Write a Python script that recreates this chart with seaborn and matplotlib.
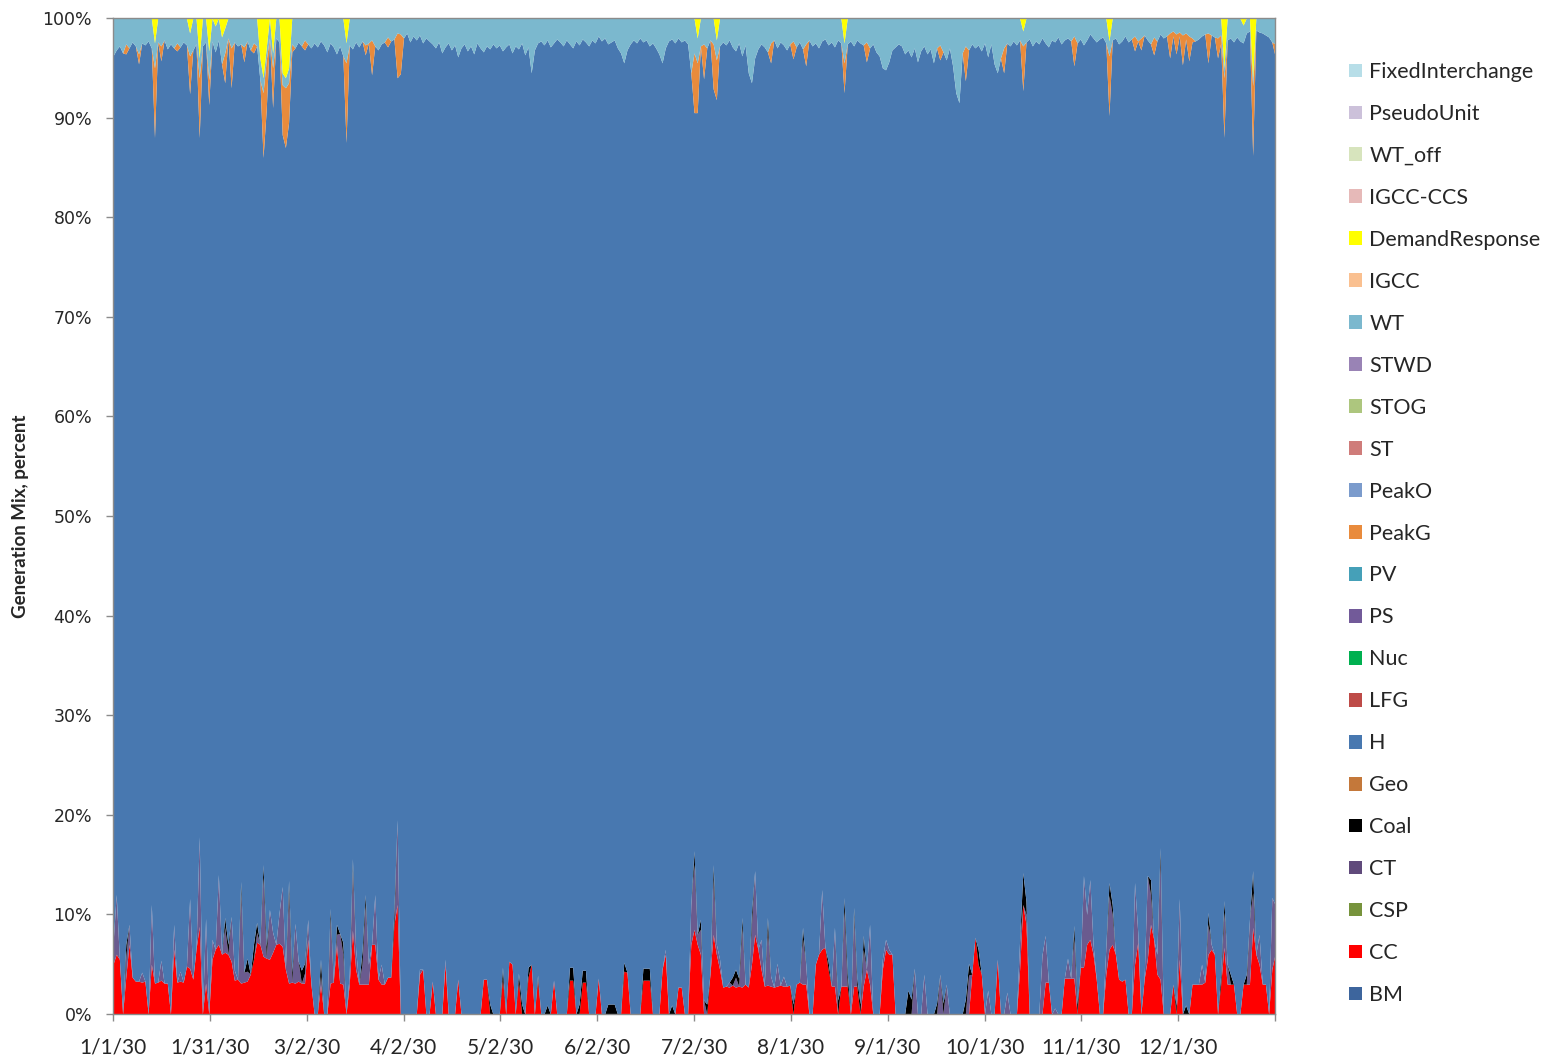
import numpy as np
import matplotlib
matplotlib.use("Agg")
import matplotlib.pyplot as plt
from matplotlib.patches import Patch
import seaborn as sns

sns.set_style("ticks")
plt.rcParams["font.family"] = ["Lato", "DejaVu Sans"]

# stacking order (bottom -> top), as in the source workbook
series_names = ["BM", "CC", "CSP", "CT", "Coal", "Geo", "H", "LFG", "Nuc", "PS", "PV",
                "PeakG", "PeakO", "ST", "STOG", "STWD", "WT", "IGCC", "DemandResponse",
                "IGCC-CCS", "WT_off", "PseudoUnit", "FixedInterchange"]
series_colors = ["#3D659D", "#FF0000", "#77933C", "#604A7B", "#000000", "#C4783A", "#4878B0",
                 "#BE4B48", "#00B050", "#725A99", "#45A0B8", "#E98B3C", "#7B9BCC", "#CF7C7A",
                 "#ADC67E", "#9983B5", "#7BB8CE", "#FAC090", "#FFFF00", "#E6B9B8", "#D7E4BD",
                 "#CCC1DA", "#B7DEE8"]

tick_labels = ["1/1/30", "1/31/30", "3/2/30", "4/2/30", "5/2/30", "6/2/30", "7/2/30",
               "8/1/30", "9/1/30", "10/1/30", "11/1/30", "12/1/30", ""]

# daily shares of generation, percent
cc = [5, 6, 5.5, 0, 3.7, 7, 3.7, 3.3, 3.3, 3.2,
      3.3, 0, 5, 3.1, 3.2, 3.4, 3.1, 3.1, 0, 6.5,
      3.2, 3.3, 3.2, 4.8, 4.6, 3.5, 6.5, 8.8, 0, 3.1,
      0, 5.5, 6.5, 7, 6, 6.2, 6, 5.3, 3.4, 3.5,
      3.1, 3.2, 3.3, 4, 5.5, 7.2, 7, 5.8, 5.6, 5.5,
      6.2, 7, 7.1, 6.8, 4.5, 3.1, 3.2, 3.1, 3.3, 3.1,
      3.1, 7.5, 3, 0, 0, 3, 0, 0, 3.1, 3.2,
      7, 3.1, 3, 0, 3, 8.4, 4.5, 3, 3, 3,
      3, 7, 7, 3.5, 3, 3, 3.7, 3.7, 9, 11,
      0, 0, 0, 0, 0, 0, 4, 4.5, 0, 0,
      3.3, 0, 0, 0, 5, 0, 0, 0, 3.5, 0,
      0, 0, 0, 0, 0, 0, 3.5, 3.5, 0, 0,
      0, 0, 3.6, 0, 5.3, 5, 0, 3.3, 0, 0,
      3.7, 5, 0, 3.4, 0, 0, 0, 0, 3.4, 0,
      0, 0, 0, 3.4, 3.4, 0, 0, 3.2, 3.2, 0,
      0, 0, 3.6, 0, 0, 0, 0, 0, 0, 0,
      4.3, 4.2, 0, 0, 0, 0, 3.4, 3.4, 3.4, 0,
      0, 0, 4.5, 6, 0, 0, 0, 2.7, 2.7, 0,
      0, 7, 8.5, 7, 6, 0, 0, 4, 8, 6,
      4.5, 2.7, 2.8, 2.7, 2.9, 2.7, 2.8, 2.7, 3, 2.7,
      5, 8, 6.5, 4.5, 2.8, 2.9, 2.8, 2.7, 2.8, 2.9,
      2.8, 2.8, 2.9, 0, 3, 3.2, 3, 3, 0, 0,
      5, 6, 6.5, 6.7, 4.5, 2.8, 2.8, 0, 2.8, 2.8,
      2.8, 0, 2.8, 2.8, 0, 2.8, 4.5, 3, 0, 0,
      0, 4.5, 6.5, 6, 6, 0, 0, 0, 0, 0,
      0, 0, 0, 0, 0, 0, 0, 0, 0, 0,
      0, 0, 0, 0, 0, 0, 0, 0, 0, 4,
      7.7, 5, 4, 0, 0, 0, 0, 5.5, 0, 0,
      0, 0, 0, 0, 4.5, 11, 9, 0, 0, 0,
      0, 0, 3.2, 3.2, 0, 0, 0, 0, 3.6, 3.6,
      3.6, 3.6, 0, 4.7, 4.7, 7, 7.5, 6, 3.5, 0,
      0, 4, 6.5, 7, 6, 3.5, 3.3, 3.5, 0, 0,
      5, 7.2, 0, 3.5, 5.5, 9, 7.5, 4, 3.5, 0,
      0, 0, 3, 0, 5.5, 0, 0, 0, 3, 3,
      3, 3, 3.2, 6, 6.5, 6, 0, 3, 6.7, 3,
      3, 3, 0, 0, 3, 3, 3, 8.7, 6, 5,
      3, 3, 0, 4.5, 6]

ct = [2, 6, 0, 0, 2, 2, 0, 0, 0, 1,
      0, 0, 6, 0, 0, 2, 0, 0, 0, 2.5,
      0, 1, 0, 0, 7, 0, 0, 9, 0, 6.5,
      0, 2, 0, 7, 0, 2.5, 0, 4.5, 1, 0,
      9, 1, 1, 0, 0, 1, 0, 8, 0, 5,
      2, 0, 3, 6, 0, 9, 0, 6, 2, 0,
      1, 2, 0, 0, 0, 1, 0, 0, 6.5, 0,
      1, 5, 3, 0, 1, 6, 2, 0, 2, 8,
      2, 0, 5, 0, 2, 0, 0, 0, 0, 8.5,
      0, 0, 0, 0, 0, 0, 0.5, 0, 0, 0,
      0, 0, 0, 0, 0.5, 0, 0, 0, 0, 0,
      0, 0, 0, 0, 0, 0, 0, 0, 0, 0,
      0, 0, 0, 0, 0, 0, 0, 0, 0, 0,
      0, 0, 0, 0, 0, 0, 0, 0, 0, 0,
      0, 0, 0, 0, 0, 0, 0, 0, 0, 0,
      0, 0, 0, 0, 0, 0, 0, 0, 0, 0,
      0, 0, 0, 0, 0, 0, 0, 0, 0, 0,
      0, 0, 0, 0.5, 0, 0, 0, 0, 0, 0,
      0, 4, 6.5, 1, 2.5, 1.4, 0, 0, 5.5, 1,
      1, 0, 0, 0.5, 0, 1, 0, 6, 0, 0,
      4, 6.4, 0, 3, 0, 5.5, 1, 0, 2.3, 0,
      1, 0, 0, 0, 0, 0, 4.5, 2, 0, 0,
      0, 0, 6, 0, 0, 0, 5.9, 0, 0, 7.6,
      0, 0, 7, 0, 0, 3.7, 0, 6, 0, 0,
      0, 1, 1, 0.5, 0, 0, 0, 0, 0, 0,
      0, 4.6, 0, 0, 4, 0, 0, 0, 0, 4,
      0, 3, 0, 0, 0, 0, 0, 0, 3.9, 0,
      0, 0, 0, 0, 2.4, 0, 0, 0, 0, 0,
      2.2, 0, 0, 0, 2.9, 0, 1, 0, 0, 0,
      0, 5.9, 4.7, 0, 0, 0.6, 0, 0, 0, 2,
      0, 4, 0, 0, 9.2, 3, 6, 1, 0, 0,
      0, 2.7, 5.4, 3, 0, 0, 0, 0, 0, 0,
      8.2, 1, 0, 0, 8.4, 3, 0, 2, 12, 0,
      0, 0, 0, 0, 6.1, 0, 0, 0, 0, 0,
      0, 2, 0, 3, 0.5, 0, 0, 0, 3.5, 2,
      0, 0, 0, 0, 0, 0, 6.5, 3.5, 0, 3,
      0, 0, 0, 7.2, 5]

wt = [3.8, 3.2, 2.8, 3.5, 2.6, 3.0, 2.4, 2.8, 3.6, 2.5,
      2.7, 2.3, 3.0, 2.5, 2.4, 2.8, 2.2, 3.1, 2.6, 3.0,
      2.5, 2.9, 2.4, 2.7, 2.3, 3.2, 2.6, 2.0, 2.8, 2.4,
      2.9, 2.3, 2.6, 2.2, 2.7, 2.5, 2.0, 3.0, 2.4, 2.8,
      2.6, 2.9, 2.3, 3.2, 2.5, 2.8, 2.2, 1.5, 1.2, 2.0,
      1.5, 2.0, 2.4, 1.2, 1.0, 1.5, 2.6, 3.0, 2.4, 2.8,
      2.2, 2.6, 3.0, 2.5, 2.9, 2.3, 2.7, 3.4, 2.5, 2.9,
      3.6, 2.8, 3.8, 2.0, 2.7, 3.1, 2.4, 2.9, 2.3, 2.7,
      2.5, 2.2, 2.8, 3.2, 2.6, 2.4, 1.9, 2.3, 2.1, 1.5,
      1.6, 2.0, 1.5, 2.4, 1.8, 2.2, 1.7, 2.5, 2.0, 2.3,
      2.6, 3.0, 2.4, 3.5, 2.9, 2.5, 3.2, 2.7, 3.9, 3.0,
      2.6, 3.3, 2.8, 3.6, 2.5, 3.0, 3.4, 2.8, 3.1, 2.6,
      3.0, 2.7, 3.3, 2.9, 2.6, 3.5, 2.8, 3.1, 2.5, 3.7,
      2.9, 5.5, 3.2, 2.5, 2.3, 2.7, 2.2, 2.9, 2.5, 2.1,
      2.4, 2.8, 2.2, 2.6, 3.0, 2.3, 2.7, 2.1, 2.4, 2.8,
      2.2, 2.5, 1.8, 2.3, 2.0, 2.6, 2.4, 2.2, 3.0, 3.5,
      4.5, 3.2, 2.6, 2.2, 2.5, 2.0, 2.4, 2.2, 2.8, 2.5,
      3.0, 3.6, 4.5, 3.0, 2.3, 2.1, 2.5, 2.0, 2.4, 2.2,
      2.6, 5.5, 3.5, 2.5, 2.8, 2.6, 3.0, 2.2, 2.6, 2.0,
      2.8, 2.4, 2.7, 2.2, 2.9, 3.3, 2.5, 3.8, 2.7, 5.5,
      6.5, 4.0, 3.1, 2.6, 2.9, 3.4, 2.5, 2.2, 3.0, 2.4,
      2.7, 3.2, 2.6, 2.3, 2.9, 2.4, 3.1, 2.6, 2.2, 2.8,
      2.5, 3.0, 2.3, 2.1, 2.7, 2.4, 2.9, 2.2, 2.5, 2.0,
      2.6, 2.3, 2.8, 2.2, 2.5, 2.7, 2.4, 3.0, 2.6, 3.4,
      3.8, 5.0, 5.2, 4.4, 3.2, 2.9, 2.6, 2.8, 3.6, 3.2,
      3.9, 3.0, 4.4, 3.3, 2.8, 3.6, 3.1, 4.5, 3.0, 2.7,
      3.4, 4.2, 3.0, 4.8, 7.5, 8.5, 3.5, 2.8, 3.2, 2.6,
      3.0, 2.7, 3.3, 2.5, 3.9, 2.6, 4.6, 5.5, 4.0, 3.0,
      2.5, 2.8, 2.3, 2.7, 2.2, 1.5, 2.4, 2.1, 2.8, 2.3,
      2.6, 2.0, 2.5, 2.9, 2.2, 2.4, 1.9, 2.6, 2.2, 2.0,
      2.3, 1.8, 2.5, 2.1, 2.7, 2.2, 1.6, 2.0, 2.4, 2.1,
      1.9, 2.5, 1.5, 2.2, 2.0, 2.6, 2.3, 1.8, 2.4, 2.1,
      1.8, 2.3, 2.0, 1.7, 2.2, 2.6, 1.9, 2.3, 1.6, 2.0,
      1.8, 1.5, 1.3, 1.6, 1.4, 1.7, 1.5, 1.8, 2.0, 2.3,
      2.1, 1.8, 1.6, 1.5, 1.7, 1.9, 2.0, 1.7, 1.0, 2.2,
      2.0, 2.4, 1.9, 2.3, 1.8, 1.5, 1.3, 0.8, 1.2, 1.4,
      1.5, 1.7, 1.9, 2.4, 2.6]

# sparse series: day of year -> percent
coal_days = [4, 35, 36, 40, 42, 44, 45, 47, 48, 55, 56, 59, 60, 65, 68, 70, 72, 75, 78, 79,
             88, 118, 122, 127, 128, 130, 133, 136, 143, 144, 146, 147, 148, 155, 156, 157,
             160, 166, 167, 168, 175, 182, 184, 186, 188, 194, 195, 196, 197, 200, 205, 213,
             216, 224, 227, 229, 230, 232, 233, 234, 235, 249, 250, 258, 260, 267, 268, 271,
             285, 286, 301, 302, 312, 313, 325, 328, 333, 336, 343, 347, 348, 350, 355, 357]
coal_vals = [1.3, 1, 1, 1.2, 1.3, 1.5, 1, 1.2, 1.2, 1.3, 1, 1.3, 1, 1.5, 1, 1, 1.2, 1.2, 1.3, 1,
             1.5, 1, 1.1, 0.8, 1, 1, 0.5, 0.9, 1.3, 1.3, 1, 1.2, 1.2, 1, 1, 1,
             0.9, 1.2, 1.2, 1.2, 0.9, 1.4, 1, 1, 1.5, 0.8, 0.8, 0.8, 1, 1.2, 1.3, 1,
             1.2, 0.8, 1.4, 1.3, 1.3, 0.9, 0.8, 1, 1.4, 2.4, 1.5, 1.1, 1.1, 1.5, 1.2, 1.5,
             3.2, 1.3, 1.3, 1, 1.3, 1, 1.5, 1.2, 0.9, 0.9, 1.2, 1, 1.2, 1, 1, 2.2]

peakg_days = [4, 8, 13, 15, 20, 24, 27, 30, 35, 37, 41, 44, 47, 48, 50, 53, 54, 55, 56, 60,
              73, 79, 81, 86, 89, 90, 182, 183, 185, 188, 189, 206, 213, 217, 229, 236, 259,
              267, 279, 285, 301, 312, 320, 322, 326, 331, 332, 333, 334, 335, 336, 337, 338,
              343, 346, 347, 348, 357, 364]
peakg_vals = [1, 1, 7, 1.5, 0.8, 3.8, 6, 2.5, 3, 4, 1.5, 1, 6.5, 5, 4, 5, 6, 4, 0.8, 1,
              8, 1, 3.5, 1, 4.5, 4, 6, 5, 3.5, 4.5, 4, 2, 1.8, 2.2, 3, 2, 1.5,
              3.5, 2.5, 4.5, 3, 6, 1.5, 1.2, 1.8, 2.5, 0.5, 2, 0.4, 3, 0.6, 2.5, 0.4,
              3, 2, 0.8, 6, 7, 1.2]

dr_days = [13, 24, 27, 30, 32, 34, 35, 46, 47, 48, 50, 53, 54, 55, 73, 183, 189, 229, 285,
           312, 348, 354, 357]
dr_vals = [2.5, 1.5, 4, 3.3, 0.8, 1.9, 1, 4, 6, 3, 3.5, 5.5, 6, 5, 2.5, 2, 2.2, 2.5, 1.3,
           2.3, 5, 0.7, 6]


def spread(days, vals):
    out = np.zeros(365)
    out[days] = vals
    return out


shares = {name: np.zeros(365) for name in series_names}
shares["CC"] = np.array(cc, dtype=float)
shares["CT"] = np.array(ct, dtype=float)
shares["Coal"] = spread(coal_days, coal_vals)
shares["PeakG"] = spread(peakg_days, peakg_vals)
shares["WT"] = np.array(wt, dtype=float)
shares["DemandResponse"] = spread(dr_days, dr_vals)
# hydro is whatever is left to reach 100%
shares["H"] = 100 - sum(v for k, v in shares.items() if k != "H")

hours = np.linspace(0, 8760, 365)

# thin hourly CT spikes blend with the blue behind them, so fill a touch lighter
fill_colors = list(series_colors)
fill_colors[series_names.index("CT")] = "#6A5B8F"

fig = plt.figure(figsize=(15.53, 10.6), dpi=100)
ax = fig.add_axes([113 / 1553, 46 / 1060, 1162 / 1553, 996 / 1060])
ax.stackplot(hours, *[shares[n] for n in series_names], colors=fill_colors, linewidth=0)

ax.set_xlim(0, 8760)
ax.set_ylim(0, 100)
ax.set_yticks(range(0, 101, 10))
ax.set_yticklabels([f"{v}%" for v in range(0, 101, 10)], fontfamily="DejaVu Sans", fontsize=12.5)
ax.set_xticks([730 * k for k in range(13)])
ax.set_xticklabels(tick_labels, fontsize=15)

for s in ax.spines.values():
    s.set_color("#8B8B8B")
    s.set_linewidth(1.0)
ax.tick_params(axis="both", direction="out", color="#8B8B8B", length=5, width=1)
ax.tick_params(axis="y", pad=10)
ax.tick_params(axis="x", pad=12)

fig.text(21 / 1553, 1 - 516 / 1060, "Generation Mix, percent", rotation=90,
         ha="center", va="center", fontsize=13.5, fontweight="bold")

handles = [Patch(facecolor=c, edgecolor="none") for c in series_colors][::-1]
fig.legend(handles, series_names[::-1], loc="upper left",
           bbox_to_anchor=(1349 / 1553, 1 - 62 / 1060), frameon=False, fontsize=15.5,
           handlelength=0.6, handleheight=0.6, handletextpad=0.35, labelspacing=1.02,
           borderpad=0, borderaxespad=0)

fig.savefig("out.png", dpi=100)
